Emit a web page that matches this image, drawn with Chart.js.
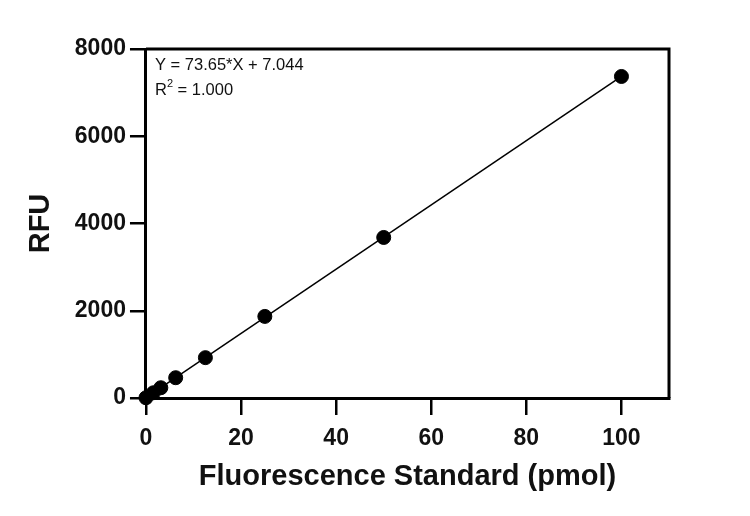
<!DOCTYPE html>
<html>
<head>
<meta charset="utf-8">
<script src="https://cdn.jsdelivr.net/npm/chart.js@4"></script>
<style>
  html, body { margin: 0; padding: 0; background: #fff; }
  #wrap { width: 750px; height: 516px; }
</style>
</head>
<body>
<div id="wrap"><canvas id="stdChart"></canvas></div>
<script>
// Standard curve data
const stdX = [0, 1.5625, 3.125, 6.25, 12.5, 25, 50, 100];
const stdY = [5, 120, 235, 465, 925, 1870, 3680, 7370];

// Fitted line end points
const fitX = [0, 100];
const fitY = [7, 7372];

const xTicks = [0, 20, 40, 60, 80, 100];
const yTicks = [0, 2000, 4000, 6000, 8000];

const eqText = 'Y = 73.65*X + 7.044';
const r2Value = '1.000';

const FONT = '"Liberation Sans", Arial, sans-serif';

// Draws the closed frame and the equation text
const framePlugin = {
    id: 'frame',
    afterDraw(chart) {
        const { ctx, chartArea } = chart;
        ctx.save();
        ctx.strokeStyle = '#000';
        ctx.lineWidth = 3;
        ctx.beginPath();
        ctx.moveTo(chartArea.left, chartArea.top);
        ctx.lineTo(chartArea.right, chartArea.top);
        ctx.lineTo(chartArea.right, chartArea.bottom);
        ctx.stroke();

        ctx.fillStyle = '#111';
        ctx.textBaseline = 'alphabetic';
        ctx.font = '16.5px ' + FONT;
        const tx = chartArea.left + 9;
        ctx.fillText(eqText, tx, chartArea.top + 21);
        ctx.fillText('R', tx, chartArea.top + 46);
        const rw = ctx.measureText('R').width;
        ctx.font = '11px ' + FONT;
        ctx.fillText('2', tx + rw, chartArea.top + 38);
        const sw = ctx.measureText('2').width;
        ctx.font = '16.5px ' + FONT;
        ctx.fillText(' = ' + r2Value, tx + rw + sw, chartArea.top + 46);
        ctx.restore();
    }
};

const ctx = document.getElementById('stdChart');
new Chart(ctx, {
    type: 'scatter',
    data: {
        datasets: [
            {
                label: 'Fit',
                type: 'line',
                data: fitX.map((x, i) => ({ x: x, y: fitY[i] })),
                borderColor: '#000',
                borderWidth: 1.5,
                pointRadius: 0,
                fill: false,
                order: 2
            },
            {
                label: 'Standard',
                data: stdX.map((x, i) => ({ x: x, y: stdY[i] })),
                backgroundColor: '#000',
                borderColor: '#000',
                pointRadius: 7,
                pointHoverRadius: 7,
                clip: false,
                order: 1
            }
        ]
    },
    options: {
        responsive: true,
        maintainAspectRatio: false,
        animation: false,
        layout: {
            padding: { left: 24, right: 81, top: 49, bottom: 25 }
        },
        plugins: {
            legend: { display: false },
            tooltip: { enabled: false }
        },
        scales: {
            x: {
                type: 'linear',
                min: 0,
                max: 110,
                afterBuildTicks: axis => { axis.ticks = xTicks.map(v => ({ value: v })); },
                border: { display: true, color: '#000', width: 3 },
                grid: {
                    drawOnChartArea: false,
                    drawTicks: true,
                    tickLength: 17,
                    color: '#000',
                    lineWidth: 2.5
                },
                ticks: {
                    color: '#111',
                    padding: 12,
                    maxRotation: 0,
                    callback: v => String(v),
                    font: { family: FONT, size: 23, weight: 'bold', lineHeight: 1 }
                },
                title: {
                    display: true,
                    text: 'Fluorescence Standard (pmol)',
                    color: '#111',
                    padding: { top: 0, bottom: 0 },
                    font: { family: FONT, size: 29, weight: 'bold', lineHeight: 1 }
                }
            },
            y: {
                type: 'linear',
                min: 0,
                max: 8000,
                afterBuildTicks: axis => { axis.ticks = yTicks.map(v => ({ value: v })); },
                border: { display: true, color: '#000', width: 3 },
                grid: {
                    drawOnChartArea: false,
                    drawTicks: true,
                    tickLength: 16,
                    color: '#000',
                    lineWidth: 2.5
                },
                ticks: {
                    color: '#111',
                    padding: 4,
                    callback: v => String(v),
                    font: { family: FONT, size: 23, weight: 'bold' }
                },
                title: {
                    display: true,
                    text: 'RFU',
                    color: '#111',
                    padding: { top: 0, bottom: 12 },
                    font: { family: FONT, size: 29, weight: 'bold' }
                }
            }
        }
    },
    plugins: [framePlugin]
});
</script>
</body>
</html>
